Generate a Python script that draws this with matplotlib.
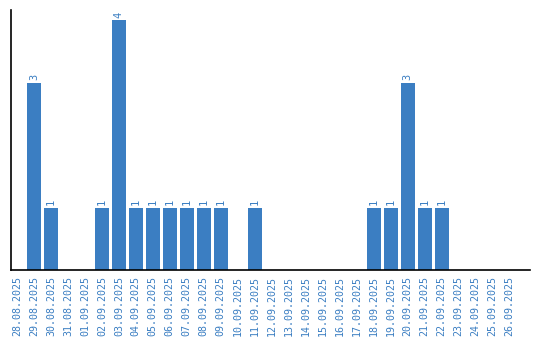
import numpy as np
import matplotlib.pyplot as plt

dates = ['28.08.2025', '29.08.2025', '30.08.2025', '31.08.2025', '01.09.2025',
         '02.09.2025', '03.09.2025', '04.09.2025', '05.09.2025', '06.09.2025',
         '07.09.2025', '08.09.2025', '09.09.2025', '10.09.2025', '11.09.2025',
         '12.09.2025', '13.09.2025', '14.09.2025', '15.09.2025', '16.09.2025',
         '17.09.2025', '18.09.2025', '19.09.2025', '20.09.2025', '21.09.2025',
         '22.09.2025', '23.09.2025', '24.09.2025', '25.09.2025', '26.09.2025']
counts = [0, 3, 1, 0, 0, 1, 4, 1, 1, 1, 1, 1, 1, 0, 1,
          0, 0, 0, 0, 0, 0, 1, 1, 3, 1, 1, 0, 0, 0, 0]

BLUE = '#3b7ec2'

fig = plt.figure(figsize=(5.4, 3.4), dpi=100)
ax = fig.add_axes([10.5 / 540, 70 / 340, 519.5 / 540, 260 / 340])

x = np.arange(len(dates))
bars = ax.bar(x, counts, width=0.82, color=BLUE)
for xi, c in zip(x, counts):
    if c > 0:
        ax.text(xi, c + 0.04, str(c), rotation=90, ha='center', va='bottom',
                color=BLUE, fontsize=7.5, family='DejaVu Sans Mono')

ax.set_xlim(-0.38, len(dates) + 0.2)
ax.set_ylim(0, 4.16)
ax.set_xticks(x)
ax.set_xticklabels(dates, rotation=90, color=BLUE, fontsize=7.2,
                   family='DejaVu Sans Mono')
ax.tick_params(axis='x', length=0, pad=4)
ax.set_yticks([])
for s in ['top', 'right']:
    ax.spines[s].set_visible(False)
ax.spines['left'].set_linewidth(1.2)
ax.spines['bottom'].set_linewidth(1.2)

fig.savefig('out.png', dpi=100)
